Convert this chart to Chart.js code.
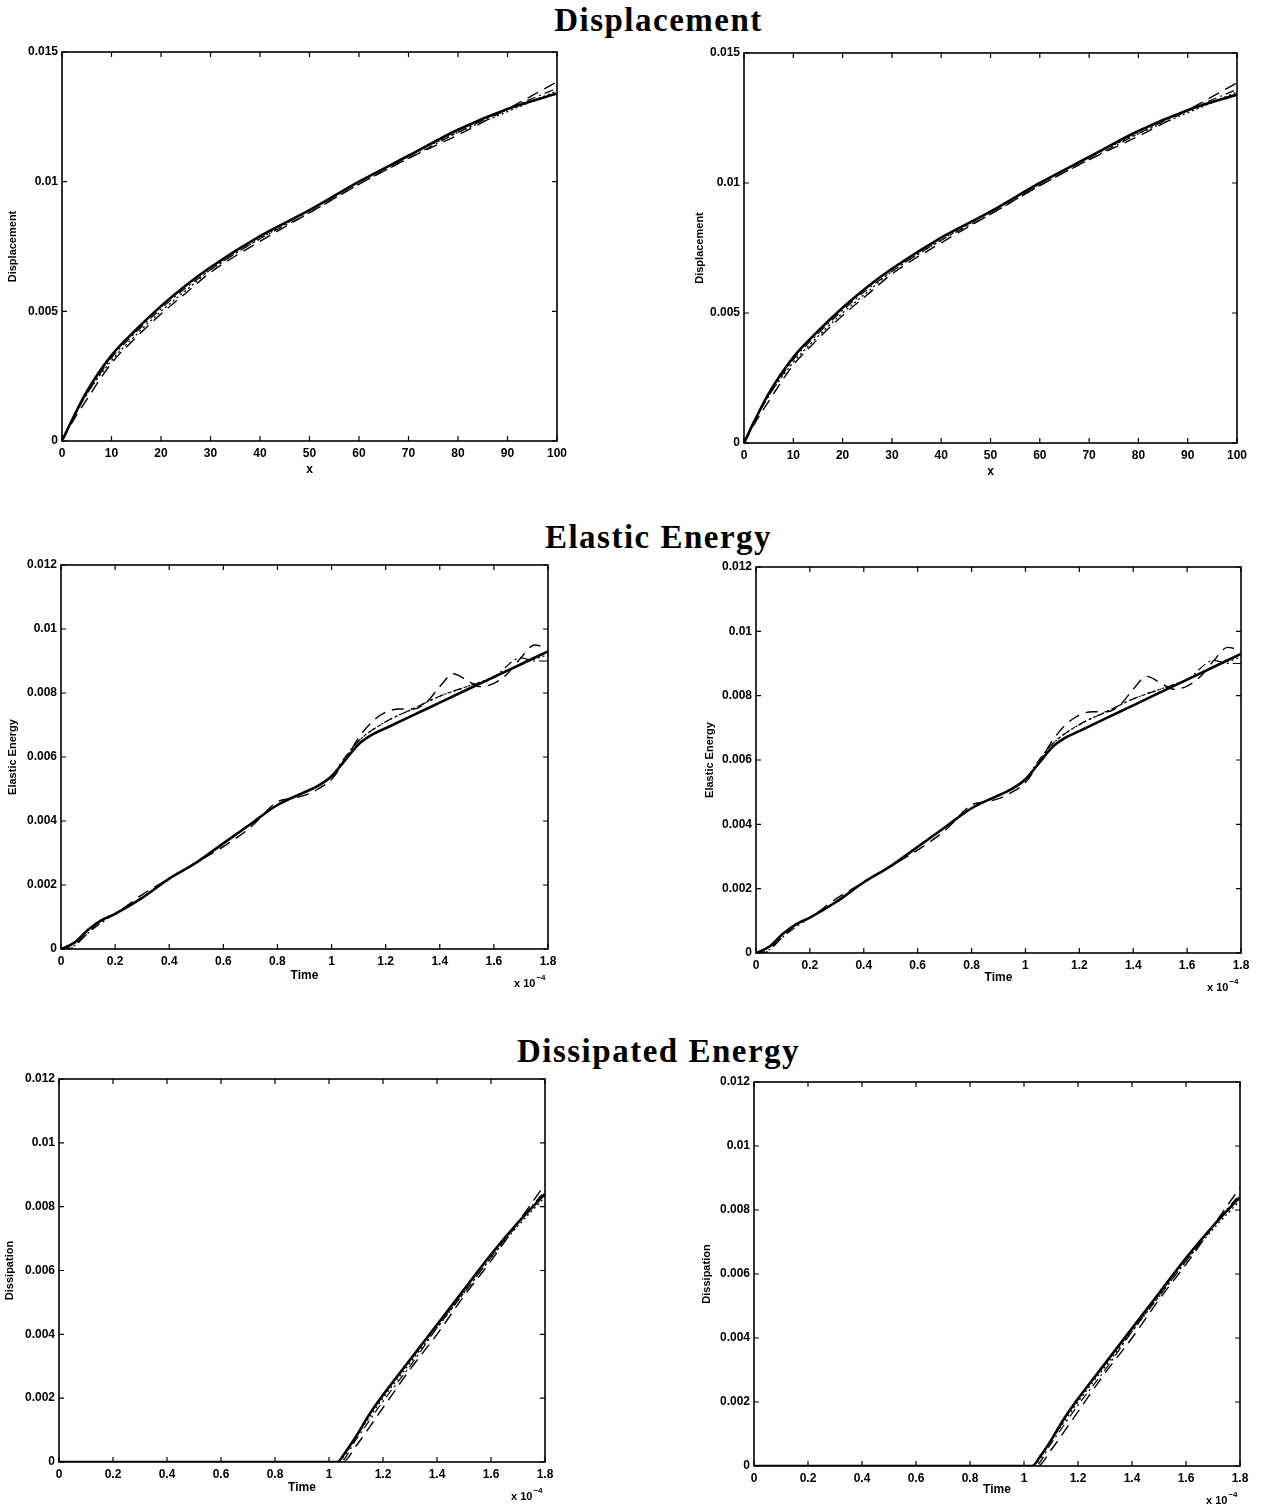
<!DOCTYPE html>
<html>
<head>
<meta charset="utf-8">
<script src="https://cdn.jsdelivr.net/npm/chart.js@4.4.1/dist/chart.umd.min.js"></script>
<style>
  body { margin: 0; background: #fff; width: 1261px; height: 1505px; position: relative; overflow: hidden; }
  .box { position: absolute; }
  .head { position: absolute; left: 28px; width: 1261px; text-align: center; font-family: "Liberation Serif", serif;
          font-weight: bold; font-size: 33px; letter-spacing: 1.5px; color: #000; line-height: 38px; }
</style>
</head>
<body>
<div class="head" style="top:1px">Displacement</div>
<div class="head" style="top:518px">Elastic Energy</div>
<div class="head" style="top:1032px">Dissipated Energy</div>

<script>
// tick labels
const dispXTicks = [0, 10, 20, 30, 40, 50, 60, 70, 80, 90, 100];
const dispYTicks = [0, 0.005, 0.01, 0.015];
const timeTicks = [0, 0.2, 0.4, 0.6, 0.8, 1, 1.2, 1.4, 1.6, 1.8];
const energyYTicks = [0, 0.002, 0.004, 0.006, 0.008, 0.01, 0.012];

// displacement along x
const dispX = [0, 2, 5, 10, 15, 20, 25, 30, 40, 50, 60, 70, 80, 90, 100];
const dispSolid   = [0, 0.0008, 0.0019, 0.0033, 0.0043, 0.0052, 0.0060, 0.0067, 0.0079, 0.0089, 0.0100, 0.0110, 0.0120, 0.0128, 0.0134];
const dispDashed  = [0, 0.0007, 0.0016, 0.0030, 0.0040, 0.0049, 0.0057, 0.0065, 0.0077, 0.0088, 0.0099, 0.0109, 0.0118, 0.0128, 0.01385];
const dispDashDot = [0, 0.0008, 0.0018, 0.0032, 0.0042, 0.0051, 0.0059, 0.0066, 0.0078, 0.0088, 0.0099, 0.0109, 0.0119, 0.0128, 0.0136];
const dispDotted  = [0, 0.0008, 0.0018, 0.0031, 0.0041, 0.0050, 0.0058, 0.0066, 0.0078, 0.0089, 0.0100, 0.0110, 0.0119, 0.0127, 0.0135];

// elastic energy vs time (x 1e-4)
const elasSolidT = [0, 0.05, 0.1, 0.15, 0.2, 0.3, 0.4, 0.5, 0.6, 0.7, 0.8, 0.9, 0.95, 1.0, 1.05, 1.1, 1.15, 1.2, 1.3, 1.4, 1.5, 1.6, 1.7, 1.8];
const elasSolid  = [0, 0.0002, 0.0006, 0.0009, 0.0011, 0.0016, 0.0022, 0.0027, 0.0033, 0.0039, 0.0045, 0.0049, 0.0051, 0.0054, 0.0059, 0.0064, 0.0067, 0.0069, 0.0073, 0.0077, 0.0081, 0.0085, 0.0089, 0.0093];
const elasDashedT = [0, 0.03, 0.06, 0.1, 0.15, 0.2, 0.3, 0.4, 0.5, 0.6, 0.7, 0.8, 0.85, 0.9, 0.95, 1.0, 1.05, 1.1, 1.15, 1.2, 1.25, 1.3, 1.35, 1.4, 1.45, 1.5, 1.55, 1.6, 1.65, 1.7, 1.75, 1.8];
const elasDashed  = [0, 0, 0.0002, 0.0005, 0.0009, 0.0011, 0.0017, 0.0022, 0.0027, 0.0032, 0.0038, 0.0046, 0.0047, 0.0048, 0.0050, 0.0053, 0.0059, 0.0066, 0.0071, 0.0074, 0.0075, 0.0075, 0.0077, 0.0082, 0.0086, 0.0084, 0.0082, 0.0083, 0.0086, 0.0091, 0.0095, 0.0094];
const elasDashDotT = [0, 0.05, 0.1, 0.2, 0.3, 0.4, 0.5, 0.6, 0.7, 0.8, 0.9, 1.0, 1.05, 1.1, 1.2, 1.3, 1.4, 1.5, 1.6, 1.7, 1.75, 1.8];
const elasDashDot  = [0, 0.0001, 0.0005, 0.0011, 0.0016, 0.0022, 0.0027, 0.0033, 0.0039, 0.0045, 0.0049, 0.0054, 0.0060, 0.0065, 0.0071, 0.0075, 0.0079, 0.0082, 0.0085, 0.0091, 0.0090, 0.0090];
const elasDottedT = [0, 0.05, 0.1, 0.2, 0.3, 0.4, 0.5, 0.6, 0.7, 0.8, 0.9, 1.0, 1.1, 1.2, 1.3, 1.4, 1.5, 1.6, 1.7, 1.8];
const elasDotted  = [0, 0.0002, 0.0006, 0.0011, 0.0016, 0.0022, 0.0027, 0.0033, 0.0039, 0.0045, 0.0049, 0.0054, 0.0065, 0.0071, 0.0075, 0.0079, 0.0082, 0.0085, 0.0089, 0.0092];

// dissipated energy vs time (x 1e-4)
const dissSolidT = [0, 1.03, 1.06, 1.1, 1.15, 1.2, 1.3, 1.4, 1.5, 1.6, 1.7, 1.8];
const dissSolid  = [0, 0, 0.0003, 0.0008, 0.0015, 0.0021, 0.0032, 0.0043, 0.0054, 0.0065, 0.0075, 0.0084];
const dissDashedT = [0, 1.05, 1.1, 1.2, 1.3, 1.4, 1.5, 1.6, 1.7, 1.8];
const dissDashed  = [0, 0, 0.0005, 0.0017, 0.0029, 0.0040, 0.0052, 0.0063, 0.0075, 0.0087];
const dissDashDotT = [0, 1.04, 1.1, 1.2, 1.3, 1.4, 1.5, 1.6, 1.7, 1.8];
const dissDashDot  = [0, 0, 0.0007, 0.0019, 0.0030, 0.0042, 0.0053, 0.0064, 0.0075, 0.0085];
const dissDottedT = [0, 1.03, 1.1, 1.2, 1.3, 1.4, 1.5, 1.6, 1.7, 1.8];
const dissDotted  = [0, 0, 0.0008, 0.0020, 0.0031, 0.0042, 0.0053, 0.0064, 0.0074, 0.0083];

const FONT = '"Liberation Sans", Arial, sans-serif';
const Y_W = 56;   // width given to the y axis
const X_H = 60;   // height given to the x axis
const PAD_T = 12, PAD_R = 20;

const styles = {
  solid:   { borderWidth: 2.6, borderDash: [] },
  dashed:  { borderWidth: 1.4, borderDash: [12, 7] },
  dashdot: { borderWidth: 1.2, borderDash: [9, 4, 2, 4] },
  dotted:  { borderWidth: 1.3, borderDash: [2, 3] }
};

function pts(xs, ys) {
  return xs.map((x, i) => ({ x: x, y: ys[i] }));
}

const framePlugin = {
  id: 'frame',
  afterDraw(chart, args, opts) {
    const { ctx, chartArea: a, scales: { x, y } } = chart;
    ctx.save();
    ctx.strokeStyle = '#000';
    ctx.lineWidth = 1.6;
    ctx.strokeRect(a.left, a.top, a.width, a.height);
    ctx.lineWidth = 1.2;
    ctx.beginPath();
    x.ticks.forEach(t => {
      const p = x.getPixelForValue(t.value);
      ctx.moveTo(p, a.bottom); ctx.lineTo(p, a.bottom - 5);
      ctx.moveTo(p, a.top); ctx.lineTo(p, a.top + 5);
    });
    y.ticks.forEach(t => {
      const p = y.getPixelForValue(t.value);
      ctx.moveTo(a.left, p); ctx.lineTo(a.left + 5, p);
      ctx.moveTo(a.right, p); ctx.lineTo(a.right - 5, p);
    });
    ctx.stroke();
    if (opts.exponent) {
      ctx.fillStyle = '#000';
      ctx.textAlign = 'left';
      ctx.textBaseline = 'alphabetic';
      ctx.font = 'bold 11px ' + FONT;
      const x0 = a.right - 34;
      ctx.fillText('x 10', x0, a.bottom + 38);
      const w = ctx.measureText('x 10').width;
      ctx.font = 'bold 8px ' + FONT;
      ctx.fillText('\u22124', x0 + w + 1, a.bottom + 31);
    }
    ctx.restore();
  }
};

function makePanel(p) {
  const left = p.L - Y_W, top = p.T - PAD_T;
  const w = p.R - p.L + Y_W + PAD_R, h = p.B - p.T + PAD_T + X_H;
  const box = document.createElement('div');
  box.className = 'box';
  box.style.cssText = `left:${left}px;top:${top}px;width:${w}px;height:${h}px`;
  const cv = document.createElement('canvas');
  box.appendChild(cv);
  document.body.appendChild(box);

  const ds = p.series.map(s => Object.assign({
    data: pts(s.x, s.y),
    borderColor: '#000',
    backgroundColor: '#000',
    pointRadius: 0,
    fill: false,
    cubicInterpolationMode: 'monotone',
    borderCapStyle: 'butt'
  }, styles[s.style]));

  const ytLine = 13.2;
  new Chart(cv, {
    type: 'line',
    data: { datasets: ds },
    options: {
      responsive: true,
      maintainAspectRatio: false,
      animation: false,
      events: [],
      layout: { padding: { top: PAD_T, right: PAD_R, left: 0, bottom: 0 } },
      plugins: {
        legend: { display: false },
        tooltip: { enabled: false },
        frame: { exponent: p.exponent }
      },
      scales: {
        x: {
          type: 'linear',
          min: p.xTicks[0],
          max: p.xTicks[p.xTicks.length - 1],
          afterBuildTicks: s => { s.ticks = p.xTicks.map(v => ({ value: v })); },
          afterFit: s => { s.height = X_H; },
          grid: { display: false, drawTicks: false },
          border: { display: false },
          ticks: { color: '#000', padding: 5, maxRotation: 0, font: { family: FONT, size: 12, weight: 'bold' },
                   callback: v => String(v) },
          title: { display: true, text: p.xTitle, color: '#000',
                   font: { family: FONT, size: 12, weight: 'bold', lineHeight: 1.2 },
                   padding: { top: 0, bottom: p.B + X_H - p.xTitleY - 7.2 } }
        },
        y: {
          type: 'linear',
          min: p.yTicks[0],
          max: p.yTicks[p.yTicks.length - 1],
          afterBuildTicks: s => { s.ticks = p.yTicks.map(v => ({ value: v })); },
          afterFit: s => { s.width = Y_W; },
          grid: { display: false, drawTicks: false },
          border: { display: false },
          ticks: { color: '#000', padding: 4, font: { family: FONT, size: 12, weight: 'bold' },
                   callback: v => String(v) },
          title: { display: true, text: p.yTitle, color: '#000',
                   font: { family: FONT, size: 11, weight: 'bold', lineHeight: 1.2 },
                   padding: { top: Math.max(0, p.yTitleX - left - ytLine / 2), bottom: 0 } }
        }
      }
    },
    plugins: [framePlugin]
  });
}

const dispSeries = [
  { x: dispX, y: dispDashed, style: 'dashed' },
  { x: dispX, y: dispDashDot, style: 'dashdot' },
  { x: dispX, y: dispDotted, style: 'dotted' },
  { x: dispX, y: dispSolid, style: 'solid' }
];
const elasSeries = [
  { x: elasDashedT, y: elasDashed, style: 'dashed' },
  { x: elasDashDotT, y: elasDashDot, style: 'dashdot' },
  { x: elasDottedT, y: elasDotted, style: 'dotted' },
  { x: elasSolidT, y: elasSolid, style: 'solid' }
];
const dissSeries = [
  { x: dissDashedT, y: dissDashed, style: 'dashed' },
  { x: dissDashDotT, y: dissDashDot, style: 'dashdot' },
  { x: dissDottedT, y: dissDotted, style: 'dotted' },
  { x: dissSolidT, y: dissSolid, style: 'solid' }
];

const panels = [
  { L: 62,  R: 557,  T: 52,   B: 441,  yTitleX: 13,  xTitleY: 470,  series: dispSeries, xTicks: dispXTicks, yTicks: dispYTicks, xTitle: 'x', yTitle: 'Displacement', exponent: false },
  { L: 744, R: 1237, T: 53,   B: 443,  yTitleX: 700, xTitleY: 472,  series: dispSeries, xTicks: dispXTicks, yTicks: dispYTicks, xTitle: 'x', yTitle: 'Displacement', exponent: false },
  { L: 61,  R: 548,  T: 565,  B: 949,  yTitleX: 13,  xTitleY: 976,  series: elasSeries, xTicks: timeTicks, yTicks: energyYTicks, xTitle: 'Time', yTitle: 'Elastic Energy', exponent: true },
  { L: 756, R: 1241, T: 567,  B: 953,  yTitleX: 710, xTitleY: 978,  series: elasSeries, xTicks: timeTicks, yTicks: energyYTicks, xTitle: 'Time', yTitle: 'Elastic Energy', exponent: true },
  { L: 59,  R: 545,  T: 1079, B: 1462, yTitleX: 10,  xTitleY: 1488, series: dissSeries, xTicks: timeTicks, yTicks: energyYTicks, xTitle: 'Time', yTitle: 'Dissipation', exponent: true },
  { L: 754, R: 1240, T: 1082, B: 1466, yTitleX: 707, xTitleY: 1490, series: dissSeries, xTicks: timeTicks, yTicks: energyYTicks, xTitle: 'Time', yTitle: 'Dissipation', exponent: true }
];

panels.forEach(makePanel);
</script>
</body>
</html>
